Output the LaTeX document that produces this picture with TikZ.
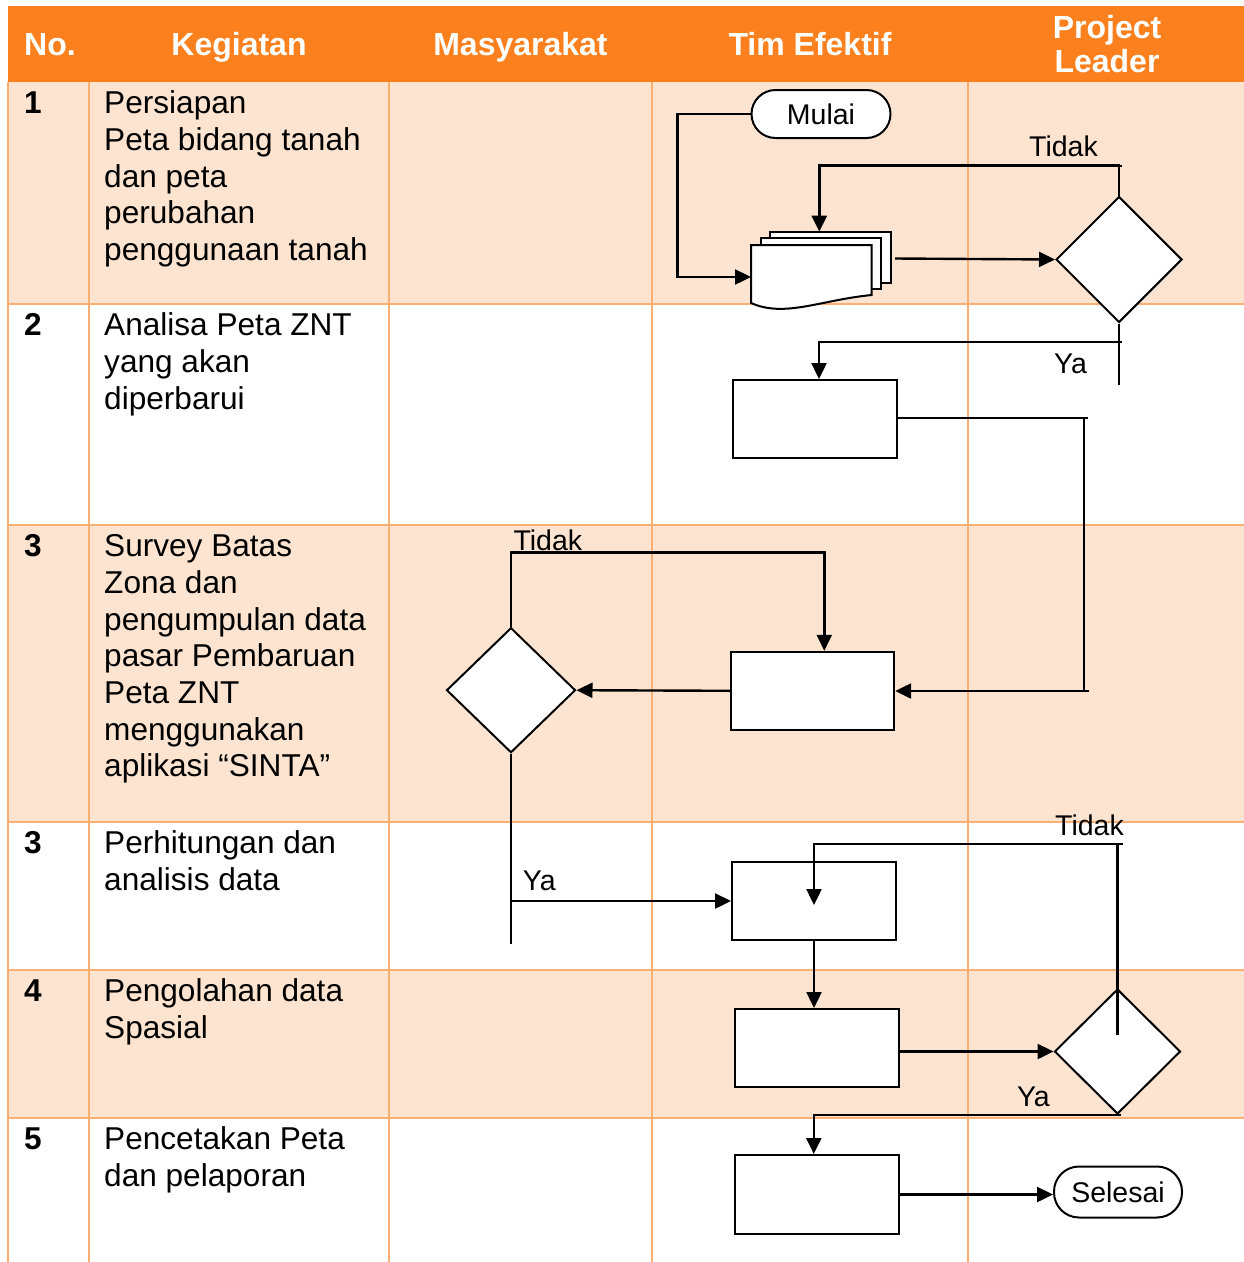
\documentclass[tikz,border=0pt]{standalone}
\usepackage{fontspec}
\setmainfont{Liberation Sans}
\usetikzlibrary{arrows.meta,shapes.geometric,calc}

\definecolor{hdrorange}{RGB}{252,129,30}
\definecolor{peach}{RGB}{253,228,208}
\definecolor{gridc}{RGB}{250,176,115}

\tikzset{
  cell/.style={anchor=north west, align=left, inner sep=0pt, font=\fontsize{31.6}{36.7}\selectfont},
  num/.style={anchor=base west, inner sep=0pt, font=\bfseries\fontsize{31.6}{36.7}\selectfont},
  head/.style={anchor=base, inner sep=0pt, text=white, font=\bfseries\fontsize{32}{34.4}\selectfont},
  lbl/.style={anchor=base west, inner sep=0pt, font=\fontsize{28.5}{32}\selectfont},
  proc/.style={draw, fill=white, line width=2pt, minimum width=164pt, minimum height=78pt, inner sep=0pt},
  decision/.style={diamond, draw, fill=white, line width=2pt, minimum width=126pt, minimum height=126pt, inner sep=0pt},
  term/.style={draw, fill=white, line width=2pt, inner sep=0pt, font=\fontsize{28.5}{32}\selectfont},
  wire/.style={line width=2pt},
  flow/.style={line width=2.4pt, -{Triangle[length=16pt,width=15pt]}},
  gridline/.style={draw=gridc, line width=2pt},
  docpage/.style={draw, fill=white, line width=2pt},
}

\begin{document}
\begin{tikzpicture}[x=1pt,y=-1pt]
\useasboundingbox (0,0) rectangle (1244,1262);
\fill[white] (0,0) rectangle (1244,1262);

% ---- table background ----
\fill[hdrorange] (8,6) rectangle (1244,82);
\fill[peach] (8,82) rectangle (1244,304);
\fill[peach] (8,525) rectangle (1244,822);
\fill[peach] (8,970) rectangle (1244,1118);
\foreach \x in {8,89,389,652,968} \draw[gridline] (\x,82) -- (\x,1262);
\foreach \y in {304,525,822,970,1118} \draw[gridline] (8,\y) -- (1244,\y);

% ---- header ----
\node[head, anchor=base west] (hno) at (24,55) {No.};
\node[head] (hkeg) at (239,55) {Kegiatan};
\node[head] (hmas) at (520.5,55) {Masyarakat};
\node[head] (htim) at (810,55) {Tim Efektif};
\node[head, anchor=north, align=center] (hpl) at (1107,13.3) {\rule{0pt}{25pt}Project\\Leader};

% ---- row numbers ----
\node[num] (n1) at (24,113.5) {1};
\node[num] (n2) at (24,335.5) {2};
\node[num] (n3) at (24,556.5) {3};
\node[num] (n4) at (24,853.5) {3};
\node[num] (n5) at (24,1001.5) {4};
\node[num] (n6) at (24,1149.5) {5};

% ---- activities ----
\node[cell] (k1) at (104,88.5) {\rule{0pt}{25pt}Persiapan\\Peta bidang tanah\\dan peta\\perubahan\\penggunaan tanah};
\node[cell] (k2) at (104,310.5) {\rule{0pt}{25pt}Analisa Peta ZNT\\yang akan\\diperbarui};
\node[cell] (k3) at (104,531.5) {\rule{0pt}{25pt}Survey Batas\\Zona dan\\pengumpulan data\\pasar Pembaruan\\Peta ZNT\\menggunakan\\aplikasi “SINTA”};
\node[cell] (k4) at (104,828.5) {\rule{0pt}{25pt}Perhitungan dan\\analisis data};
\node[cell] (k5) at (104,976.5) {\rule{0pt}{25pt}Pengolahan data\\Spasial};
\node[cell] (k6) at (104,1124.5) {\rule{0pt}{25pt}Pencetakan Peta\\dan pelaporan};

% ---- flowchart nodes ----
\node[term, rounded corners=24pt, minimum width=139pt, minimum height=48pt] (mulai) at (821,114) {Mulai};
\node[decision] (d1) at (1119,259.5) {};
\node[proc] (b2) at (815,419) {};
\node[proc, minimum width=163pt] (b3) at (812.7,690.8) {};
\node[decision, minimum width=129pt, minimum height=125pt] (d2) at (511,690.2) {};
\node[proc] (b4) at (814,901) {};
\node[proc] (b5) at (816.8,1048) {};
\node[decision, minimum height=125pt] (d3) at (1117.5,1051.5) {};
\node[proc, minimum height=79pt] (b6) at (816.8,1194.5) {};
\node[term, rounded corners=25pt, minimum width=128pt, minimum height=51pt] (selesai) at (1118,1192) {Selesai};

% ---- stack of documents ----
\draw[docpage] (770,231.7) rectangle (890.7,282.7);
\draw[docpage] (760.7,238.3) rectangle (880.7,289.3);
\draw[docpage] (751,245) -- (871.7,245) -- (871.7,295)
  .. controls (820,300) and (785,318) .. (751,303) -- cycle;
\coordinate (stkin) at (751,277);
\coordinate (stktop) at (819.3,231.7);
\coordinate (stkout) at (895,258.5);

% ---- decision labels ----
\node[lbl] (t1) at (1029,156) {Tidak};
\node[lbl] (y1) at (1054,373.3) {Ya};
\node[lbl] (t2) at (513.3,550.7) {Tidak};
\node[lbl] (y2) at (522.7,890.7) {Ya};
\node[lbl] (t3) at (1055,835) {Tidak};
\node[lbl] (y3) at (1016.8,1106.7) {Ya};

% ---- connectors ----
\draw[flow] (mulai.west) -- ++(-73,0) |- (stkin);
\draw[flow] (d1.north) -- ++(0,-30) -| (stktop);
\draw[wire] (d1.north) ++(0,-30) -- ++(3,0);
\draw[flow] (stkout) -- (d1.west);

\draw[wire] (d1.south) -- ++(0,61);
\draw[flow] ($(d1.south)+(3,18.4)$) -| ([xshift=4pt]b2.north);

\coordinate (r1) at (1084,418);
\coordinate (r2) at (1084,691);
\draw[flow] (b2.east |- r1) -- (r1) -- (r2) -- (b3.east |- r2);
\draw[wire] (r1) -- ++(4,0);
\draw[wire] (r2) -- ++(5,0);

\draw[flow] (b3.west) -- (d2.east);
\draw[flow] (d2.north) -- ++(0,-74.4) -| ([xshift=11.6pt]b3.north);

\draw[wire] (d2.south) -- ++(0,190.6);
\draw[flow] (d2.south |- b4.west) -- (b4.west);

\draw[flow] ([yshift=16.5pt]d3.center) -- ++(0,-191) -| ([yshift=-4pt]b4.center);
\draw[wire] ([yshift=16.5pt]d3.center) ++(0,-191) -- ++(5,0);
\draw[flow] (b4.south) -- (b4.south |- b5.north);
\draw[flow] (d3.west -| b5.east) -- (d3.west);

\draw[flow] ([xshift=3pt]d3.south) -| ([xshift=-3pt]b6.north);
\draw[flow] (b6.east) -- (b6.east -| selesai.west);
\end{tikzpicture}
\end{document}
